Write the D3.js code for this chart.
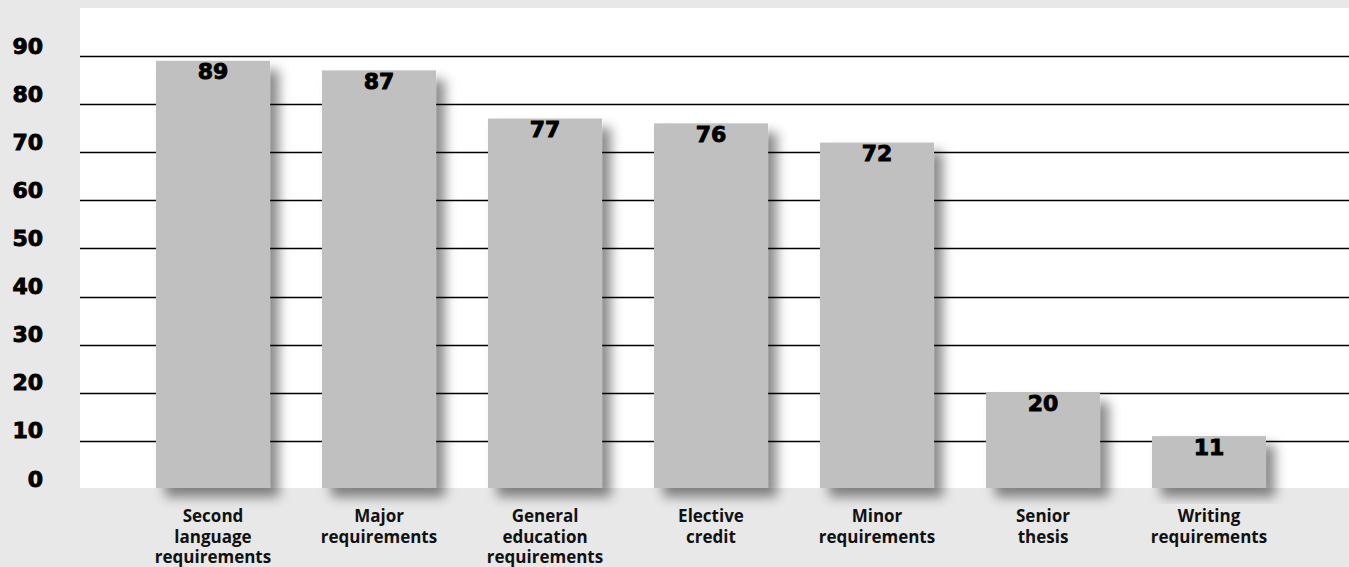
<!DOCTYPE html>
<html><head><meta charset="utf-8">
<script src="https://cdn.jsdelivr.net/npm/d3@7"></script>
<style>html,body{margin:0;padding:0;background:#e8e8e8;}svg{display:block;}</style>
</head><body>
<svg id="c" width="1349" height="567"></svg>
<script>
const categories = [
  ["Second","language","requirements"],
  ["Major","requirements"],
  ["General","education","requirements"],
  ["Elective","credit"],
  ["Minor","requirements"],
  ["Senior","thesis"],
  ["Writing","requirements"]
];
const values = [89, 87, 77, 76, 72, 20, 11];
const yTicks = [0, 10, 20, 30, 40, 50, 60, 70, 80, 90];

const W = 1349, H = 567;
const svg = d3.select("#c");
const defs = svg.append("defs");
const f = defs.append("filter").attr("id","sh").attr("x","-20%").attr("y","-20%").attr("width","150%").attr("height","150%");
f.append("feDropShadow").attr("dx",9).attr("dy",9).attr("stdDeviation",6).attr("flood-color","#000").attr("flood-opacity",0.45);

svg.append("rect").attr("width",W).attr("height",H).attr("fill","#e8e8e8");
const plot = {x0:80, x1:W, y0:8, y1:488};
svg.append("rect").attr("x",plot.x0).attr("y",plot.y0).attr("width",plot.x1-plot.x0).attr("height",plot.y1-plot.y0).attr("fill","#ffffff");

const y = d3.scaleLinear().domain([0,90]).range([489,56]);
const x = d3.scaleBand().domain(d3.range(values.length)).range([130,1292]).paddingInner(0.313).paddingOuter(0.1566);

const heavy = "'DejaVu Sans', Verdana, sans-serif";

// gridlines
svg.append("g").selectAll("line").data(yTicks.filter(d=>d>0)).join("line")
  .attr("x1",plot.x0).attr("x2",plot.x1)
  .attr("y1",d=>Math.round(y(d))+0.5).attr("y2",d=>Math.round(y(d))+0.5)
  .attr("stroke","#000").attr("stroke-width",1.6);

// y labels
svg.append("g").selectAll("text").data(yTicks).join("text")
  .attr("x",43).attr("y",d=>y(d)-2.5).attr("text-anchor","end")
  .attr("font-family",heavy).attr("font-weight","bold")
  .attr("font-size",22).attr("fill","#000").attr("stroke","#000").attr("stroke-width",0.9)
  .text(d=>d);

// bars
svg.append("g").selectAll("rect").data(values).join("rect")
  .attr("x",(d,i)=>x(i)).attr("width",x.bandwidth())
  .attr("y",d=>y(d)).attr("height",d=>plot.y1-y(d))
  .attr("fill","#c0c0c0").attr("filter","url(#sh)");

// value labels
svg.append("g").selectAll("text").data(values).join("text")
  .attr("x",(d,i)=>x(i)+x.bandwidth()/2).attr("y",d=>y(d)+18.5)
  .attr("text-anchor","middle")
  .attr("font-family",heavy).attr("font-weight","bold")
  .attr("font-size",22).attr("fill","#000").attr("stroke","#000").attr("stroke-width",0.9)
  .text(d=>d);

// category labels
const cg = svg.append("g");
categories.forEach((lines,i)=>{
  const t = cg.append("text").attr("x",x(i)+x.bandwidth()/2).attr("y",522)
    .attr("text-anchor","middle").attr("font-family","'Open Sans', sans-serif")
    .attr("font-weight","bold").attr("font-size",17).attr("fill","#111");
  lines.forEach((l,j)=>t.append("tspan").attr("x",x(i)+x.bandwidth()/2).attr("dy",j?20.5:0).text(l));
});
</script>
</body></html>
